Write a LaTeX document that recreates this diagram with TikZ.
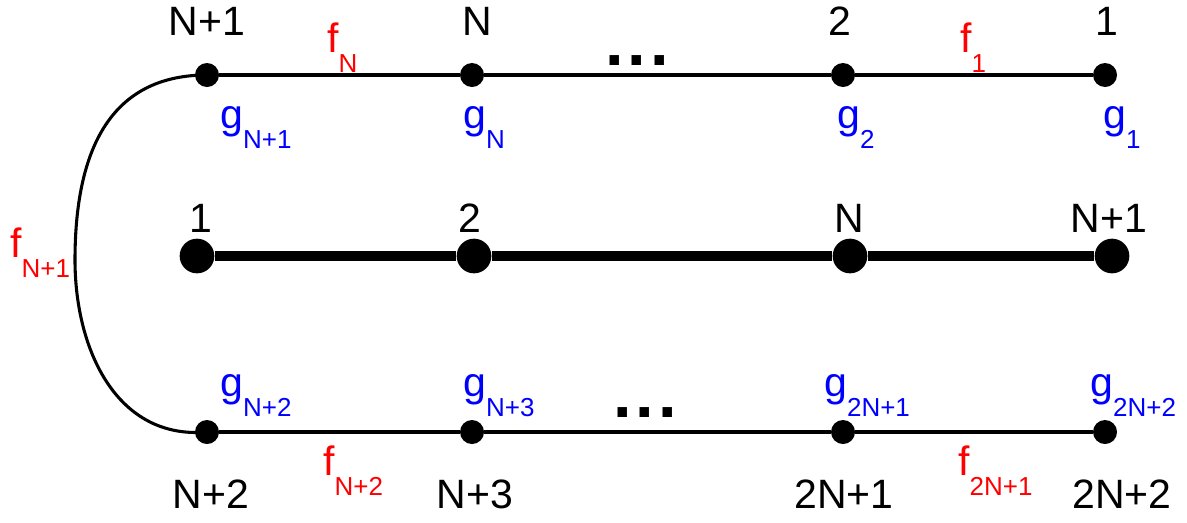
\documentclass[tikz,border=0pt]{standalone}
\usepackage{fontspec}
\setmainfont{Liberation Sans}
\newcommand\lb[2]{#1\raisebox{-15pt}{\fontsize{19.5}{20}\selectfont #2}}
\begin{document}
\begin{tikzpicture}[x=0.75pt,y=-0.75pt,
  sdot/.style={circle,fill=black,inner sep=0pt,minimum size=18pt},
  bdot/.style={circle,fill=black,inner sep=0pt,minimum size=26pt},
  thin line/.style={line width=2.6pt},
  thick line/.style={line width=8pt},
  num/.style={anchor=base,inner sep=0pt,font=\fontsize{30.75}{31}\selectfont},
  flab/.style={anchor=base west,inner sep=0pt,text=red,font=\fontsize{30.75}{31}\selectfont},
  glab/.style={anchor=base west,inner sep=0pt,text=blue,font=\fontsize{30.75}{31}\selectfont},
  dots/.style={anchor=base,inner sep=0pt,font=\fontsize{50}{50}\selectfont\bfseries}]
\useasboundingbox (0,0) rectangle (1187,522);
% nodes
\node[sdot] (t1) at (207,75) {};
\node[sdot] (t2) at (472,75) {};
\node[sdot] (t3) at (843,75) {};
\node[sdot] (t4) at (1105,75) {};
\node[bdot] (m1) at (197,256) {};
\node[bdot] (m2) at (474,256) {};
\node[bdot] (m3) at (850,256) {};
\node[bdot] (m4) at (1112,256) {};
\node[sdot] (b1) at (207,432) {};
\node[sdot] (b2) at (472,432) {};
\node[sdot] (b3) at (843,432) {};
\node[sdot] (b4) at (1105,432) {};
\coordinate (lc) at (75,260);
% connectors
\draw[thin line] (t1) -- (t2) -- (t3) -- (t4);
\draw[thick line] (m1) -- (m2) -- (m3) -- (m4);
\draw[thin line] (b1) -- (b2) -- (b3) -- (b4);
\draw[line width=2.3pt] (t1.center) .. controls (117,75) and (75,140) .. (lc)
  .. controls (75,350) and (117,440) .. (b1.center);
% top labels
\node[num] (lt1) at (207,35) {N+1};
\node[num] (lt2) at (477,35) {N};
\node[num] (lt3) at (840,35) {2};
\node[num] (lt4) at (1107,35) {1};
\node[flab] (fN) at (327,52) {\lb{f}{N}};
\node[flab] (f1) at (960,52) {\lb{f}{1}};
\node[dots] (dt) at (637,65) {.\kern3pt.\kern3pt.};
\node[glab] (gN1) at (220,128) {\lb{g}{N+1}};
\node[glab] (gN) at (463,128) {\lb{g}{N}};
\node[glab] (g2) at (837,128) {\lb{g}{2}};
\node[glab] (g1) at (1103,128) {\lb{g}{1}};
% middle labels
\node[num] (lm1) at (201,232) {1};
\node[num] (lm2) at (470,232) {2};
\node[num] (lm3) at (849,232) {N};
\node[num] (lm4) at (1109,232) {N+1};
\node[flab] (fN1) at (10,257) {\lb{f}{N+1}};
% bottom labels
\node[glab] (gN2) at (220,396) {\lb{g}{N+2}};
\node[glab] (gN3) at (463,396) {\lb{g}{N+3}};
\node[glab] (g2N1) at (824,396) {\lb{g}{2N+1}};
\node[glab] (g2N2) at (1090,396) {\lb{g}{2N+2}};
\node[dots] (db) at (645,417) {.\kern3pt.\kern3pt.};
\node[flab] (fN2) at (323,475) {\lb{f}{N+2}};
\node[flab] (f2N1) at (958,475) {\lb{f}{2N+1}};
\node[num] (lb1) at (211,508) {N+2};
\node[num] (lb2) at (475,508) {N+3};
\node[num] (lb3) at (844,508) {2N+1};
\node[num] (lb4) at (1122,508) {2N+2};
\end{tikzpicture}
\end{document}
